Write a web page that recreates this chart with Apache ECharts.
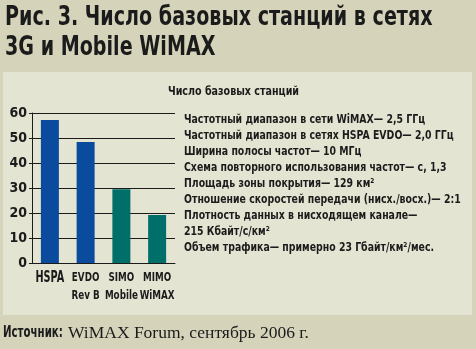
<!DOCTYPE html>
<html><head><meta charset="utf-8">
<script src="https://cdn.jsdelivr.net/npm/echarts@6/dist/echarts.min.js"></script>
<style>html,body{margin:0;padding:0;background:#d5d4ba}#c{width:476px;height:349px}</style>
</head><body><div id="c"></div>
<script>
const titleLines = ['Рис. 3. Число базовых станций в сетях', '3G и Mobile WiMAX'];
const subtitle = 'Число базовых станций';
const categories = ['HSPA', 'EVDO\nRev B', 'SIMO\nMobile', 'MIMO\nWiMAX'];
const values = [57.2, 48.4, 29.5, 19.2];
const barColors = ['#0a4b9d', '#0a4b9d', '#006f6a', '#006f6a'];
const yTicks = [0, 10, 20, 30, 40, 50, 60];
const notes = [
  'Частотный диапазон в сети WiMAX— 2,5 ГГц',
  'Частотный диапазон в сетях HSPA EVDO— 2,0 ГГц',
  'Ширина полосы частот— 10 МГц',
  'Схема повторного использования частот— с, 1,3',
  'Площадь зоны покрытия— 129 км²',
  'Отношение скоростей передачи (нисх./восх.)— 2:1',
  'Плотность данных в нисходящем канале—',
  '215 Кбайт/с/км²',
  'Объем трафика— примерно 23 Гбайт/км²/мес.'
];
const sourceLabel = 'Источник:';
const sourceText = 'WiMAX Forum, сентябрь 2006 г.';

const ink = '#1b1b1b';
const chart = echarts.init(document.getElementById('c'), null, {renderer: 'canvas'});
const cond = '"DejaVu Sans Condensed", "DejaVu Sans", sans-serif';
const graphics = [
  {type: 'rect', shape: {x: 3, y: 72, width: 469, height: 243}, style: {fill: '#e4e4d3'}, z: -10, silent: true},
  {type: 'text', x: 233.5, y: 92, scaleX: 0.885, style: {text: subtitle, font: 'bold 12px ' + cond, fill: ink, align: 'center', verticalAlign: 'middle'}},
  {type: 'text', x: 3, y: 333, scaleX: 0.71, style: {text: sourceLabel, font: 'bold 16px ' + cond, fill: ink, verticalAlign: 'middle'}},
  {type: 'text', x: 68, y: 333, style: {text: sourceText, font: '17.5px "Liberation Serif", serif', fill: ink, verticalAlign: 'middle'}}
];
titleLines.forEach((t, i) => {
  graphics.push({type: 'text', x: 5, y: 18 + i * 29.5, scaleX: 0.787, style: {text: t, font: 'bold 27px ' + cond, fill: ink, verticalAlign: 'middle'}});
});
notes.forEach((t, i) => {
  graphics.push({type: 'text', x: 184, y: 120 + i * 15.9, scaleX: 0.8, style: {text: t, font: 'bold 13px ' + cond, fill: ink, verticalAlign: 'middle'}});
});

const option = {
  animation: false,
  backgroundColor: '#d5d4ba',
  graphic: graphics,
  grid: {left: 32, right: 301, top: 113, bottom: 86},
  xAxis: {
    type: 'category', data: categories,
    axisLine: {lineStyle: {color: ink, width: 1}},
    axisTick: {show: false},
    axisLabel: {show: false}
  },
  yAxis: {
    type: 'value', min: 0, max: 60, interval: 10,
    axisLine: {show: true, lineStyle: {color: ink}},
    axisTick: {show: true, length: 3, lineStyle: {color: ink}},
    splitLine: {lineStyle: {color: ink, width: 1}},
    axisLabel: {color: ink, fontWeight: 'bold', fontSize: 14, fontFamily: cond, margin: 5,
      formatter: v => yTicks.includes(v) ? String(v) : ''}
  },
  series: [{
    type: 'bar', barWidth: 18,
    data: values.map((v, i) => ({value: v, itemStyle: {color: barColors[i]}}))
  }]
};
chart.setOption(option);

// category labels, positioned through the chart's own x scale
const baseY = chart.convertToPixel({yAxisIndex: 0}, 0);
const labelGraphics = [];
categories.forEach((c, i) => {
  const cx = chart.convertToPixel({xAxisIndex: 0}, c);
  const lines = c.split('\n');
  lines.forEach((ln, j) => {
    const big = (lines.length === 1);
    labelGraphics.push({type: 'text', x: cx, y: baseY + 15 + j * 18, scaleX: big ? 0.72 : 0.78,
      style: {text: ln, font: 'bold ' + (big ? 15 : 12.5) + 'px ' + cond, fill: ink, align: 'center', verticalAlign: 'middle'}});
  });
});
chart.setOption({graphic: graphics.concat(labelGraphics)});
</script></body></html>
